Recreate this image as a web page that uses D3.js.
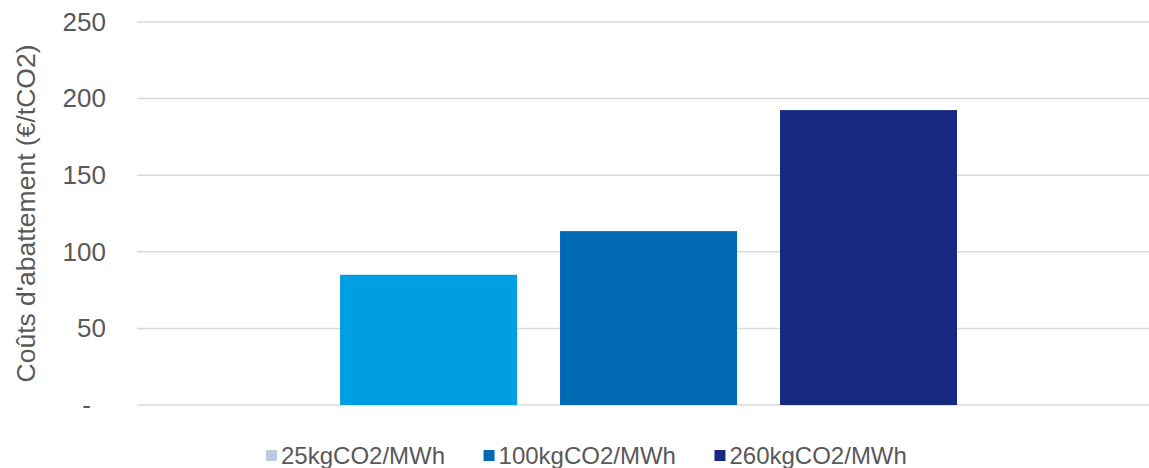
<!DOCTYPE html>
<html>
<head>
<meta charset="utf-8">
<script src="https://cdn.jsdelivr.net/npm/d3@7"></script>
<style>
  html, body { margin: 0; padding: 0; background: #ffffff; }
  svg { display: block; font-family: "Liberation Sans", Arial, sans-serif; }
</style>
</head>
<body>
<svg id="chart" width="1149" height="468"></svg>
<script>
// Abatement cost per emission-factor scenario
const barLabels = ["scénario A", "scénario B", "scénario C"];
const barValues = [85, 113.5, 192.5];
const barColors = ["#009FE3", "#0069B4", "#152981"];

const legendLabels = ["25kgCO2/MWh", "100kgCO2/MWh", "260kgCO2/MWh"];
const legendColors = ["#B8CCE4", "#0069B4", "#152981"];

const yTicks = [0, 50, 100, 150, 200, 250];
const yTitle = "Coûts d'abattement (€/tCO2)";

const svg = d3.select("#chart");
const plot = { left: 137, right: 1149, top: 22, bottom: 405 };

const x = d3.scaleBand()
  .domain(barLabels)
  .range([plot.left, plot.right])
  .paddingInner(0.1955)
  .paddingOuter(0.898)
  .align(0.514);

const y = d3.scaleLinear()
  .domain([0, 250])
  .range([plot.bottom, plot.top]);

// horizontal gridlines
svg.append("g")
  .selectAll("line")
  .data(yTicks)
  .join("line")
  .attr("x1", plot.left)
  .attr("x2", plot.right)
  .attr("y1", d => y(d))
  .attr("y2", d => y(d))
  .attr("stroke", "#D9D9D9")
  .attr("stroke-width", 1.5);

// y axis labels
const yAxis = d3.axisLeft(y)
  .tickValues(yTicks)
  .tickSize(0)
  .tickPadding(0)
  .tickFormat(d => d === 0 ? "-" : d3.format("d")(d));

const yG = svg.append("g")
  .attr("transform", `translate(106,0)`)
  .call(yAxis);
yG.select(".domain").remove();
yG.selectAll("text")
  .attr("fill", "#595959")
  .attr("font-size", 26)
  .attr("font-family", "Liberation Sans, Arial, sans-serif")
  .attr("dx", d => d === 0 ? -15 : 0);

// bars
svg.append("g")
  .selectAll("rect")
  .data(barValues)
  .join("rect")
  .attr("x", (d, i) => x(barLabels[i]))
  .attr("width", x.bandwidth())
  .attr("y", d => y(d))
  .attr("height", d => y(0) - y(d))
  .attr("fill", (d, i) => barColors[i]);

// y axis title
svg.append("text")
  .attr("transform", `translate(35,${(plot.top + plot.bottom) / 2}) rotate(-90)`)
  .attr("text-anchor", "middle")
  .attr("fill", "#595959")
  .attr("font-size", 26.5)
  .text(yTitle);

// legend
const legend = svg.append("g").attr("transform", "translate(266,456)");
let cx = 0;
legendLabels.forEach((label, i) => {
  const item = legend.append("g").attr("transform", `translate(${cx},0)`);
  item.append("rect")
    .attr("x", 0).attr("y", -6)
    .attr("width", 11).attr("height", 11)
    .attr("fill", legendColors[i]);
  const t = item.append("text")
    .attr("x", 15)
    .attr("y", 0)
    .attr("dy", "0.35em")
    .attr("fill", "#595959")
    .attr("font-size", 24)
    .text(label);
  cx += 15 + t.node().getComputedTextLength() + 38.5;
});
</script>
</body>
</html>
